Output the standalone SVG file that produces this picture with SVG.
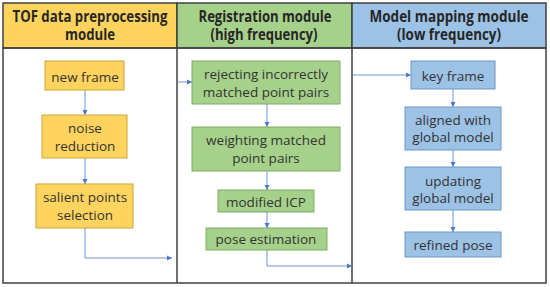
<svg xmlns="http://www.w3.org/2000/svg" width="550" height="287" viewBox="0 0 550 287">
<style>
.frame{fill:none;stroke:#404040;stroke-width:1.5}
.hy{fill:#FFD45E;stroke:#404040;stroke-width:1.5}
.hg{fill:#A6D18A;stroke:#404040;stroke-width:1.5}
.hb{fill:#9CC2E5;stroke:#404040;stroke-width:1.5}
.ny{fill:#FFD45E;stroke:#C9A63C;stroke-width:1}
.ng{fill:#A6D18A;stroke:#7EAA66;stroke-width:1}
.nb{fill:#9CC2E5;stroke:#6E97C4;stroke-width:1}
.ht{font-family:"Open Sans","Noto Sans",sans-serif;font-weight:bold;font-size:15.5px;fill:#262626;text-anchor:middle}
.nt{font-family:"Open Sans","Noto Sans",sans-serif;font-size:13.5px;fill:#333;text-anchor:middle}
.c{fill:none;stroke:#4A78C8;stroke-width:0.8;marker-end:url(#ah)}
</style>
<defs>
<marker id="ah" markerWidth="6" markerHeight="6" refX="5" refY="3" orient="auto" markerUnits="userSpaceOnUse">
<path d="M0,0.5 L5,3 L0,5.5 Z" fill="#4A78C8"/>
</marker>
</defs>
<rect x="0" y="0" width="550" height="287" fill="#fff"/>
<g id="headers">
<rect class="hy" x="3" y="3" width="174" height="45"/>
<rect class="hg" x="177" y="3" width="175" height="45"/>
<rect class="hb" x="352" y="3" width="194" height="45"/>
<text class="ht" x="90" y="22" textLength="155" lengthAdjust="spacingAndGlyphs">TOF data preprocessing</text>
<text class="ht" x="90" y="40" textLength="50" lengthAdjust="spacingAndGlyphs">module</text>
<text class="ht" x="265" y="22" textLength="133" lengthAdjust="spacingAndGlyphs">Registration module</text>
<text class="ht" x="264" y="40" textLength="107" lengthAdjust="spacingAndGlyphs">(high frequency)</text>
<text class="ht" x="449" y="22" textLength="159" lengthAdjust="spacingAndGlyphs">Model mapping module</text>
<text class="ht" x="449" y="40" textLength="104" lengthAdjust="spacingAndGlyphs">(low frequency)</text>
</g>
<g id="frame">
<rect class="frame" x="3" y="48" width="543" height="235"/>
<line class="frame" x1="177" y1="48" x2="177" y2="283"/>
<line class="frame" x1="352" y1="48" x2="352" y2="283"/>
</g>
<g id="connectors">
<path class="c" d="M85,90 V115"/>
<path class="c" d="M85,158 V184"/>
<path class="c" d="M85,228 V258 H172"/>
<path class="c" d="M178,82 H192"/>
<path class="c" d="M267,104 V127"/>
<path class="c" d="M267,171 V190"/>
<path class="c" d="M267,212 V228"/>
<path class="c" d="M267,250 V266 H352"/>
<path class="c" d="M353,75 H411"/>
<path class="c" d="M453,89 V107"/>
<path class="c" d="M453,150 V167"/>
<path class="c" d="M453,210 V232"/>
</g>
<g id="new-frame"><rect class="ny" x="45" y="61" width="79" height="29"/><text class="nt" x="85" y="81.5">new frame</text></g>
<g id="noise-reduction"><rect class="ny" x="42" y="115" width="85" height="43"/><text class="nt" x="85" y="133">noise</text><text class="nt" x="85" y="150.5">reduction</text></g>
<g id="salient-points"><rect class="ny" x="36" y="184" width="97" height="44"/><text class="nt" x="85" y="202">salient points</text><text class="nt" x="85" y="219.5">selection</text></g>
<g id="rejecting"><rect class="ng" x="192" y="61" width="148" height="43"/><text class="nt" x="266" y="79">rejecting incorrectly</text><text class="nt" x="266" y="97">matched point pairs</text></g>
<g id="weighting"><rect class="ng" x="192" y="127" width="148" height="44"/><text class="nt" x="266" y="145">weighting matched</text><text class="nt" x="266" y="163">point pairs</text></g>
<g id="modified-icp"><rect class="ng" x="218" y="190" width="96" height="22"/><text class="nt" x="266" y="207">modified ICP</text></g>
<g id="pose-estimation"><rect class="ng" x="206" y="228" width="121" height="22"/><text class="nt" x="266" y="244">pose estimation</text></g>
<g id="key-frame"><rect class="nb" x="411" y="61" width="84" height="28"/><text class="nt" x="453" y="81">key frame</text></g>
<g id="aligned"><rect class="nb" x="405" y="107" width="96" height="43"/><text class="nt" x="453" y="125">aligned with</text><text class="nt" x="453" y="142">global model</text></g>
<g id="updating"><rect class="nb" x="405" y="167" width="96" height="43"/><text class="nt" x="453" y="186">updating</text><text class="nt" x="453" y="203">global model</text></g>
<g id="refined-pose"><rect class="nb" x="405" y="232" width="96" height="25"/><text class="nt" x="453" y="250">refined pose</text></g>
</svg>
